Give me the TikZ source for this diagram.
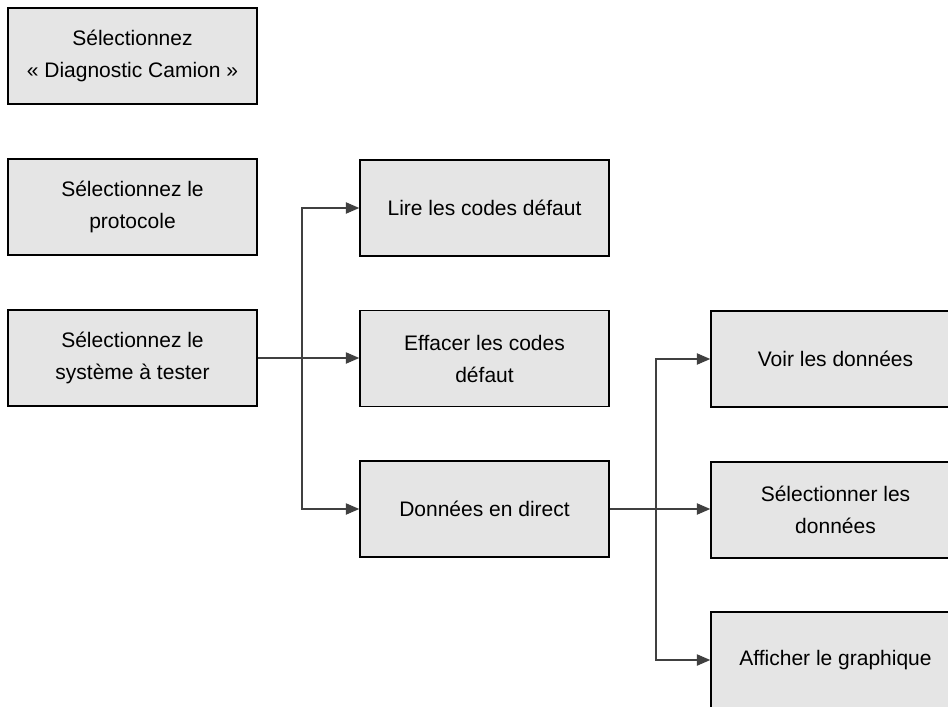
\documentclass[tikz,border=0pt]{standalone}
\usepackage{fontspec}
\setmainfont{Liberation Sans}
\usepackage{tikz}
\usetikzlibrary{arrows.meta,positioning}

\tikzset{
  etape/.style={draw=black,line width=1.2pt,fill=gray!20,minimum width=186.75pt,
    minimum height=72pt,align=center,inner sep=0pt,
    font=\fontsize{15.75}{24}\selectfont},
  fleche/.style={draw=black!75,line width=0.8pt,-{Triangle[length=10pt,width=8.5pt]}}
}

\begin{document}
\begin{tikzpicture}[x=0.75pt,y=-0.75pt]
  \clip (0,0) rectangle (948,706);
  \node[etape] (camion) at (132.5,56) {Sélectionnez\\« Diagnostic Camion »};
  \node[etape] (proto) at (132.5,207) {Sélectionnez le\\protocole};
  \node[etape] (systeme) at (132.5,358) {Sélectionnez le\\système à tester};
  \node[etape] (lire) at (484.5,208) {Lire les codes défaut};
  \node[etape] (effacer) at (484.5,358.5) {Effacer les codes\\défaut};
  \node[etape] (direct) at (484.5,509) {Données en direct};
  \node[etape] (voir) at (835.5,359) {Voir les données};
  \node[etape] (select) at (835.5,510) {Sélectionner les\\données};
  \node[etape] (graph) at (835.5,660) {Afficher le graphique};
  \coordinate (j1) at (302,358);
  \coordinate (j2) at (656,509);
  \draw[fleche] (systeme.east) -- (effacer.west |- systeme.east);
  \draw[fleche] (j1) |- (lire.west);
  \draw[fleche] (j1) |- (direct.west);
  \draw[fleche] (direct.east) -- (select.west |- direct.east);
  \draw[fleche] (j2) |- (voir.west);
  \draw[fleche] (j2) |- (graph.west);
\end{tikzpicture}
\end{document}
